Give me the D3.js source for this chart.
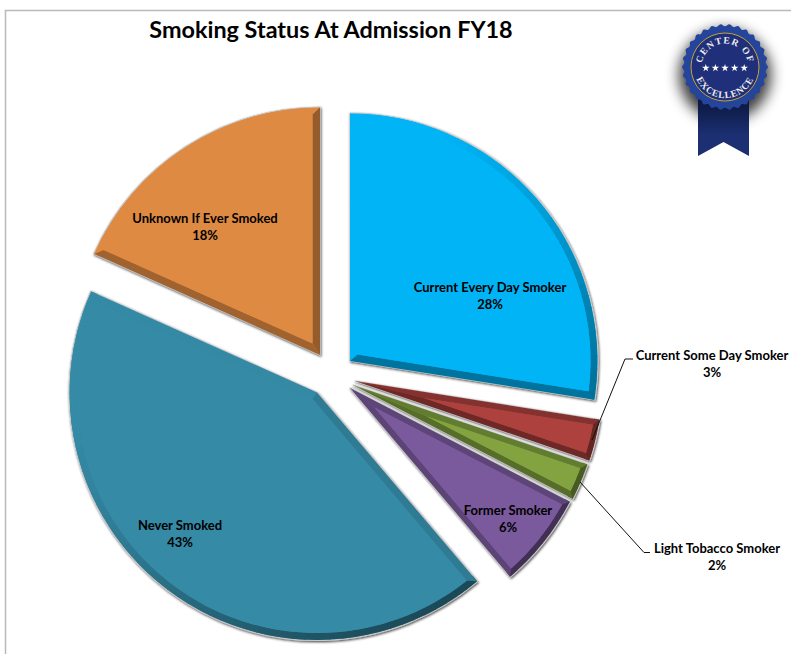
<!DOCTYPE html>
<html>
<head>
<meta charset="utf-8">
<script src="https://cdn.jsdelivr.net/npm/d3@7"></script>
<style>
html,body{margin:0;padding:0;background:#fff;}
svg{display:block;}
text{font-family:Lato,"Open Sans",sans-serif;font-weight:700;fill:#000;}
</style>
</head>
<body>
<div id="chart"></div>
<script>
const title = "Smoking Status At Admission FY18";
const categories = ["Current Every Day Smoker","Current Some Day Smoker","Light Tobacco Smoker","Former Smoker","Never Smoked","Unknown If Ever Smoked"];
const shares = [27.5,2.7,2.4,6.2,42.9,18.3];
const percentLabels = ["28%","3%","2%","6%","43%","18%"];
const faceColors = ["#00b4f6","#ad413d","#82a33f","#7a5a9c","#358aa6","#df8a42"];
const badgeTop = "CENTER OF";
const badgeBottom = "EXCELLENCE";

// Layout (not data)
const W = 791, H = 654, R = 248, BEVEL = 7.5;
const sliceOrigins = [[350,361],[355,381],[353,385],[350,388],[317,392.5],[320,355]];
const labelAnchors = [[490,288],[712,356],[717,549],[508,511],[180,526],[205,219]];
const leaders = [
  [[592,440],[625,359],[633,359]],
  [[580,482],[644,552.5],[650,552.5]]
];

const svg = d3.select("#chart").append("svg").attr("width",W).attr("height",H);
const defs = svg.append("defs");
const f = defs.append("filter").attr("id","rim").attr("x","-5%").attr("y","-5%").attr("width","110%").attr("height","110%");
f.append("feDropShadow").attr("dx",0.8).attr("dy",1.2).attr("stdDeviation",0.8).attr("flood-color","#222").attr("flood-opacity",0.8);
const blur = defs.append("filter").attr("id","badgeShadow").attr("x","-50%").attr("y","-50%").attr("width","200%").attr("height","200%");
blur.append("feGaussianBlur").attr("stdDeviation",7);

// Frame
svg.append("path").attr("d",d3.line()([[5.5,H],[5.5,10.5],[W,10.5]]))
  .attr("fill","none").attr("stroke","#b9b9b9").attr("stroke-width",1.5);

// Title
svg.append("text").attr("x",331).attr("y",38).attr("text-anchor","middle").attr("font-size",23.4).text(title);

// Pie
const pie = d3.pie().sort(null).value(d=>d);
const arcs = pie(shares);
const fullArc = d3.arc();
const lightDir = [-0.62,-0.78];

function shade(col, normal, litDark){
  const t = (normal[0]*lightDir[0]+normal[1]*lightDir[1]+1)/2; // 0 dark, 1 lit
  return t>0.5 ? d3.interpolateRgb(d3.rgb(col).darker(Math.max(0.35,litDark)), d3.rgb(col).darker(litDark))(Math.min(1,(t-0.5)*4))
               : d3.interpolateRgb(d3.rgb(col).darker(1.8), d3.rgb(col).darker(Math.max(0.35,litDark)))(t*2);
}
const pt = (a,r)=>[r*Math.sin(a),-r*Math.cos(a)];

arcs.forEach((d,i)=>{
  const col = faceColors[i];
  const g = svg.append("g").attr("transform",`translate(${sliceOrigins[i]})`);
  const wrap = g.append("g").attr("filter","url(#rim)");
  const half = (d.endAngle-d.startAngle)/2, mid = (d.startAngle+d.endAngle)/2;
  const small = half<0.25;
  const b = half<0.2 ? 6 : BEVEL;
  const litDark = small ? 0.75 : 0;
  const apexDist = b/Math.sin(Math.min(half,Math.PI/2));
  const innerApex = pt(mid,apexDist);

  // silhouette with light rim
  wrap.append("path").attr("d",fullArc({innerRadius:0,outerRadius:R,startAngle:d.startAngle,endAngle:d.endAngle}))
    .attr("fill",col).attr("stroke","#c9c9c9").attr("stroke-width",1.2).attr("stroke-linejoin","round");

  // arc bevel: short segments, each shaded by its outward normal
  d3.range(d.startAngle,d.endAngle,0.05).forEach(a=>{
    const e = Math.min(a+0.055,d.endAngle);
    const m = (a+e)/2;
    g.append("path").attr("d",fullArc({innerRadius:R-b,outerRadius:R-0.6,startAngle:a,endAngle:e}))
      .attr("fill",shade(col,pt(m,1),litDark));
  });

  // straight-edge bevels
  const innerR = R-b;
  const inA = d.startAngle + Math.asin(b/innerR), inB = d.endAngle - Math.asin(b/innerR);
  g.append("path").attr("d",d3.line()([[0,0],pt(d.startAngle,R-0.6),pt(inA,innerR),innerApex])+"Z")
    .attr("fill",shade(col,pt(d.startAngle-Math.PI/2,1),litDark));
  g.append("path").attr("d",d3.line()([[0,0],pt(d.endAngle,R-0.6),pt(inB,innerR),innerApex])+"Z")
    .attr("fill",shade(col,pt(d.endAngle+Math.PI/2,1),litDark));

  // top face
  const p = d3.path();
  p.moveTo(innerApex[0],innerApex[1]);
  p.arc(0,0,innerR,inA-Math.PI/2,inB-Math.PI/2);
  p.closePath();
  g.append("path").attr("d",p.toString()).attr("fill",col);
});

// Leader lines
leaders.forEach(l=>svg.append("path").attr("d",d3.line()(l)).attr("fill","none").attr("stroke","#111").attr("stroke-width",1));

// Data labels
categories.forEach((c,i)=>{
  const t = svg.append("text").attr("text-anchor","middle").attr("font-size",13)
    .attr("x",labelAnchors[i][0]).attr("y",labelAnchors[i][1]+4);
  t.append("tspan").attr("x",labelAnchors[i][0]).text(c);
  t.append("tspan").attr("x",labelAnchors[i][0]).attr("dy",17).text(percentLabels[i]);
});

// Badge
const bx=725, by=67;
const badge = svg.append("g").attr("transform",`translate(${bx},${by})`);
badge.append("circle").attr("r",46).attr("cy",8).attr("fill","#000").attr("opacity",0.75).attr("filter","url(#badgeShadow)");
const ribbonDef = defs.append("linearGradient").attr("id","ribbon").attr("x1",0).attr("y1",0).attr("x2",0).attr("y2",1);
ribbonDef.append("stop").attr("offset","0.25").attr("stop-color","#0e1a45");
ribbonDef.append("stop").attr("offset","0.7").attr("stop-color","#1b2f72");
badge.append("path").attr("d",d3.line()([[-27,20],[-27,89],[-1.5,75],[24,89],[24,20]])+"Z").attr("fill","url(#ribbon)");
const scallop = d3.lineRadial().curve(d3.curveCardinalClosed)
  .angle(d=>d.a).radius(d=>d.r);
const scallopPts = d3.range(0,60).map(i=>({a:i/60*2*Math.PI,r:i%2?43:40.8}));
badge.append("path").attr("d",scallop(scallopPts)).attr("fill","#25449b");
badge.append("circle").attr("r",34).attr("fill","#1f2f7a").attr("stroke","#c7a233").attr("stroke-width",1);
defs.append("path").attr("id","arcTop").attr("d","M -23.5 0 A 23.5 23.5 0 0 1 23.5 0");
defs.append("path").attr("id","arcBottom").attr("d","M -31 0 A 31 31 0 0 0 31 0");
const bt = badge.append("text").style("font-family","'Liberation Serif',serif")
  .style("font-weight","700").style("fill","#f0f0f0").attr("font-size",9.5).attr("letter-spacing",1.2);
bt.append("textPath").attr("href","#arcTop").attr("startOffset","50%").attr("text-anchor","middle").text(badgeTop);
const bb = badge.append("text").style("font-family","'Liberation Serif',serif")
  .style("font-weight","700").style("fill","#f0f0f0").attr("font-size",9.5).attr("letter-spacing",0.7);
bb.append("textPath").attr("href","#arcBottom").attr("startOffset","50%").attr("text-anchor","middle").text(badgeBottom);
const star = d3.symbol().type(d3.symbolStar).size(18);
d3.range(-2,3).forEach(k=>badge.append("path").attr("d",star()).attr("transform",`translate(${k*9.6},1)`).attr("fill","#fff"));
</script>
</body>
</html>
